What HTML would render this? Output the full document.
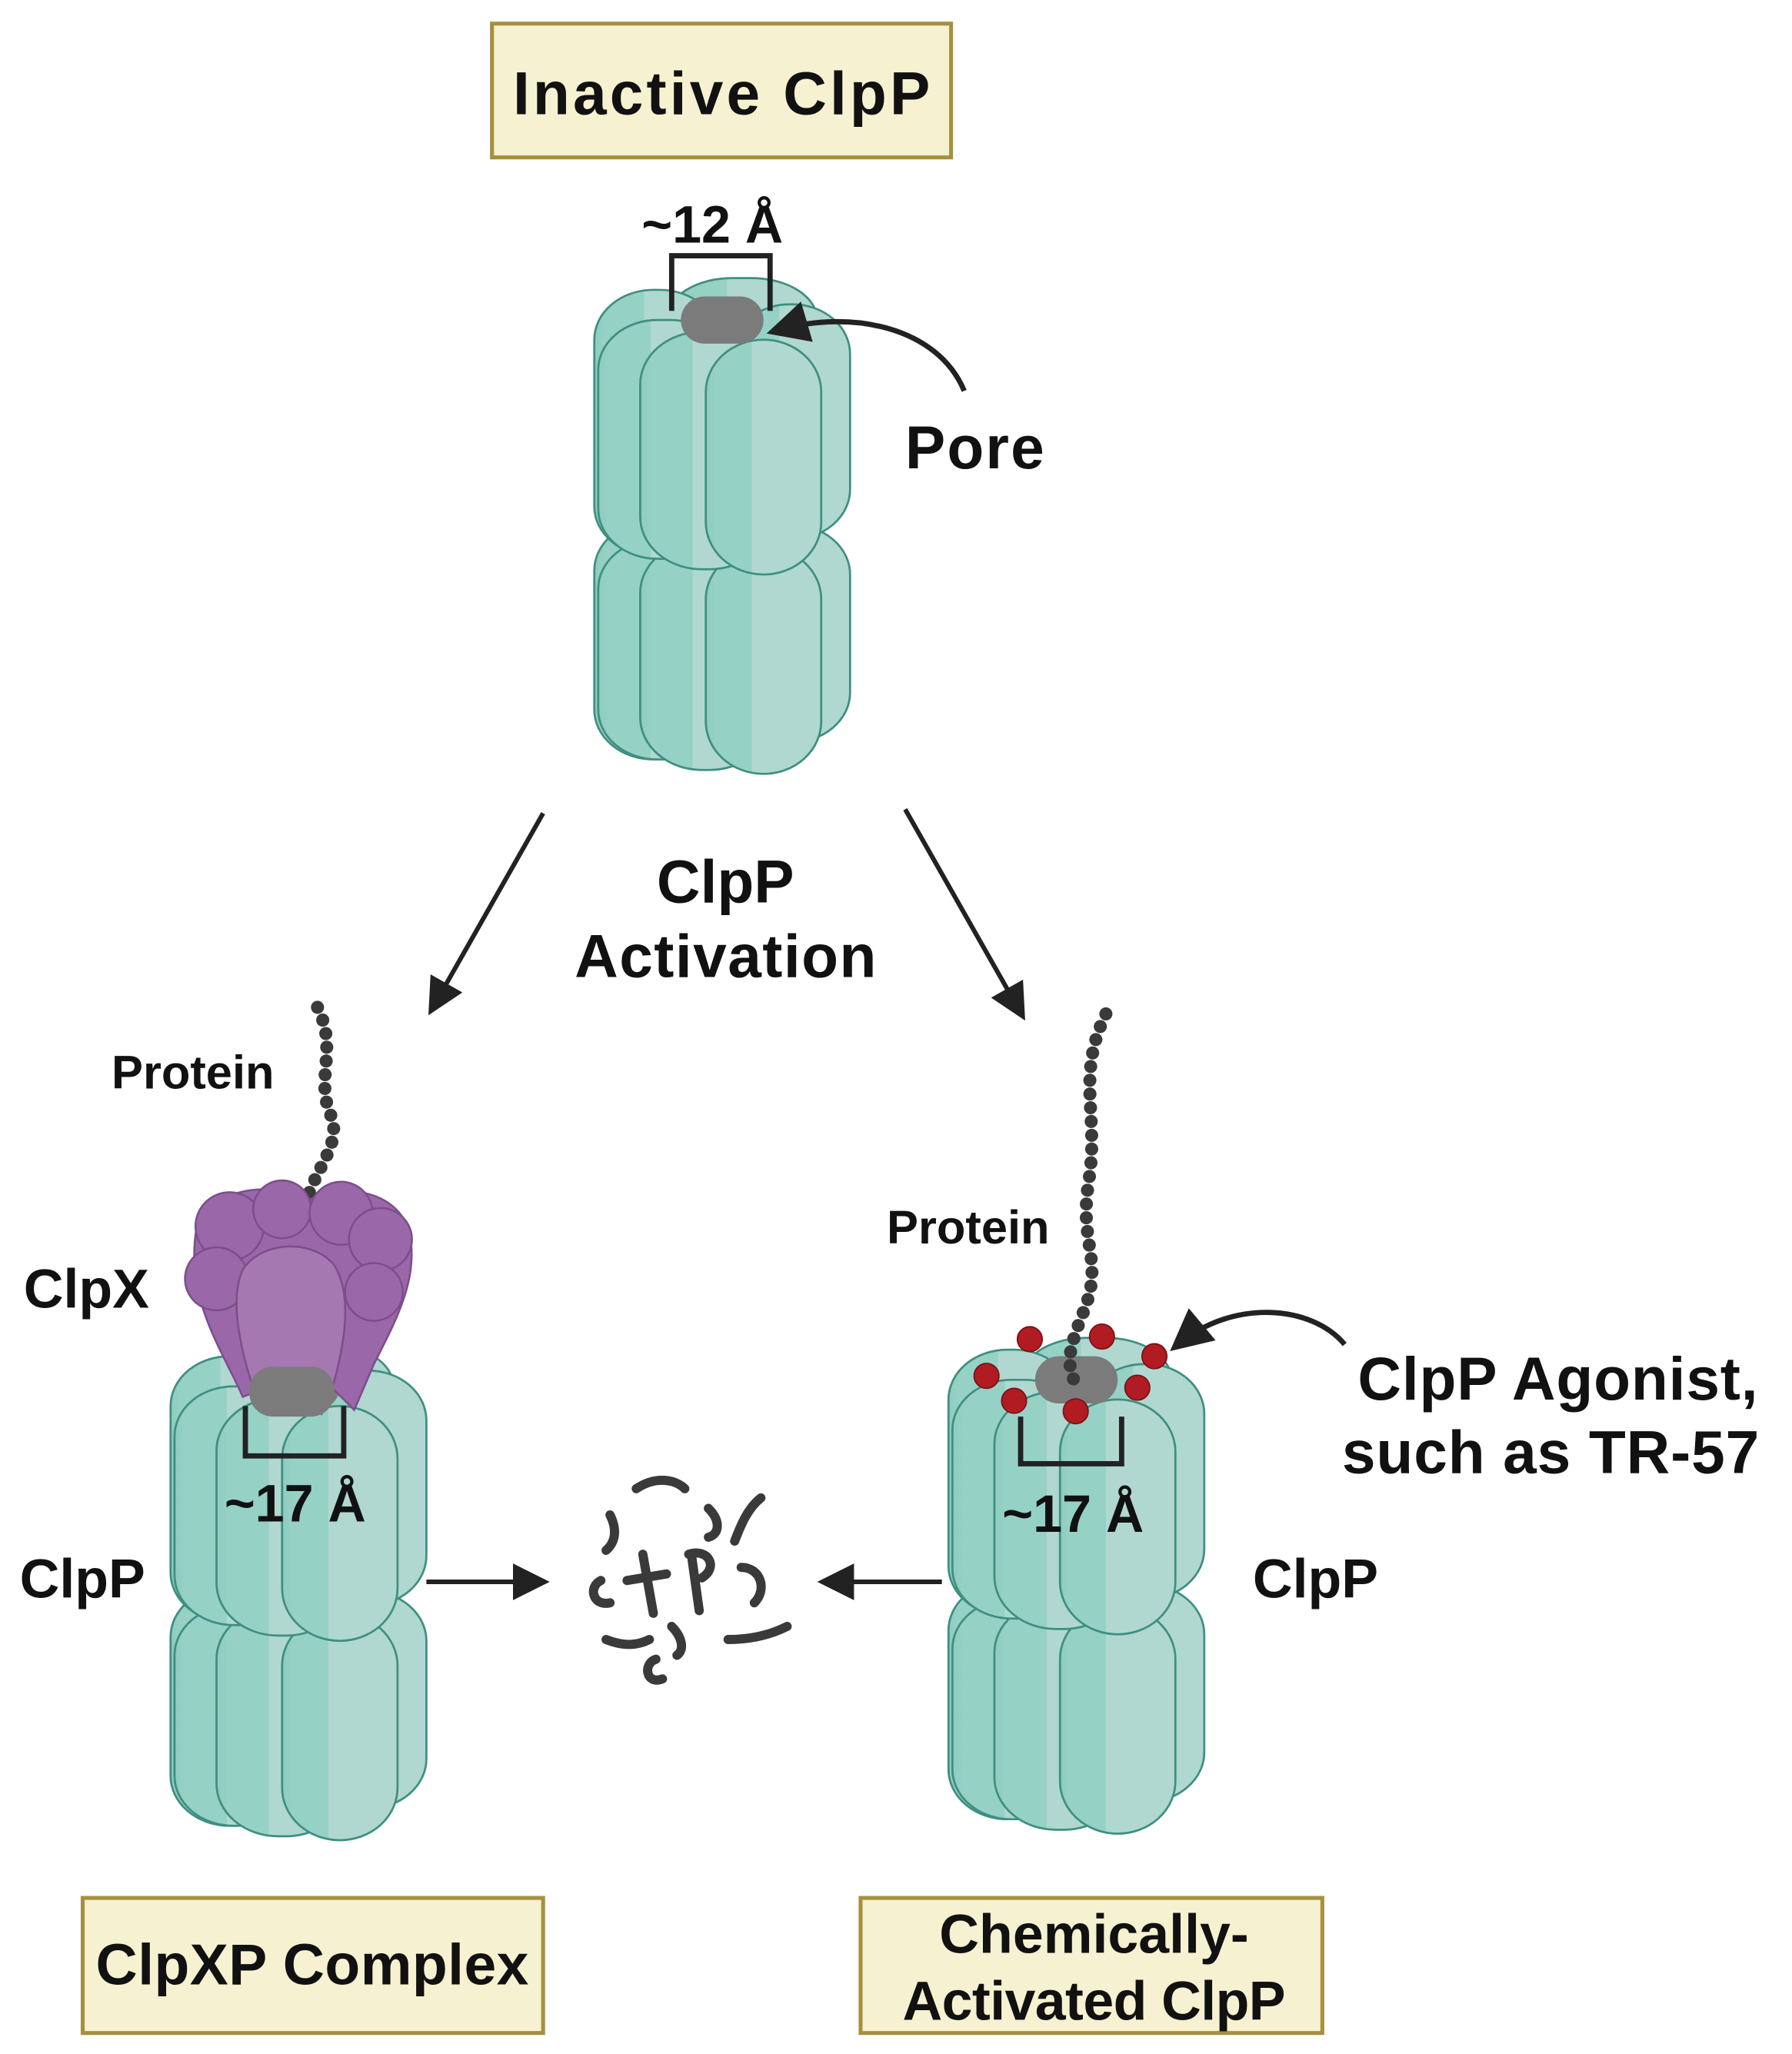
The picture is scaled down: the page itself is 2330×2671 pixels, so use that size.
<!DOCTYPE html>
<html><head><meta charset="utf-8"><style>html,body{margin:0;padding:0;background:#fff}svg{display:block}text{font-family:"Liberation Sans",sans-serif;font-weight:bold;fill:#111}</style></head><body>
<svg width="2330" height="2671" viewBox="0 0 1366 1566" xmlns="http://www.w3.org/2000/svg">
<defs>
<linearGradient id="cg" x1="0" y1="0" x2="1" y2="0">
<stop offset="0" stop-color="#8ecbbf"/><stop offset="0.08" stop-color="#96d1c6"/><stop offset="0.4" stop-color="#96d1c6"/><stop offset="0.4" stop-color="#b0d8d0"/><stop offset="1" stop-color="#b0d8d0"/>
</linearGradient>
<marker id="ah" markerWidth="8" markerHeight="8" refX="6" refY="4" orient="auto" markerUnits="strokeWidth"><path d="M0,0 L8,4 L0,8 Z" fill="#222"/></marker>
<g id="barrel" stroke="#3e8f80" stroke-width="1.6" fill="url(#cg)">
<rect x="0" y="185" width="95" height="182" rx="45" ry="38"/>
<rect x="100" y="188" width="95" height="166" rx="45" ry="38"/>
<rect x="3" y="199" width="100" height="168" rx="45" ry="38"/>
<rect x="35" y="200" width="100" height="175" rx="47" ry="40"/>
<rect x="85" y="205" width="88" height="173" rx="44" ry="40"/>
<rect x="55" y="0" width="115" height="150" rx="50" ry="32"/>
<rect x="0" y="9" width="95" height="203" rx="45" ry="38"/>
<rect x="105" y="20" width="90" height="179" rx="44" ry="38"/>
<rect x="3" y="32" width="100" height="182" rx="45" ry="38"/>
<rect x="35" y="41" width="100" height="181" rx="47" ry="40"/>
<rect x="85" y="47" width="88" height="179" rx="44" ry="40"/>
<rect x="66" y="14" width="63" height="36" rx="18" fill="#7b7b7b" stroke="none"/>
</g>
</defs>

<rect x="375" y="18" width="350" height="102" fill="#f6f1d0" stroke="#a6903f" stroke-width="3"/>
<text x="550" y="87" font-size="46" text-anchor="middle" textLength="318">Inactive ClpP</text>
<use href="#barrel" x="453" y="212"/>
<path d="M512,237 V195 H587 V237" fill="none" stroke="#222" stroke-width="4"/>
<text x="543" y="185" font-size="40" text-anchor="middle">~12 Å</text>
<path d="M735,298 C715,250 650,235 592,252" fill="none" stroke="#222" stroke-width="4" marker-end="url(#ah)"/>
<text x="690" y="357" font-size="46" textLength="106">Pore</text>

<path d="M414,620 L330,768" stroke="#222" stroke-width="3.5" marker-end="url(#ah)"/>
<path d="M690,617 L778,772" stroke="#222" stroke-width="3.5" marker-end="url(#ah)"/>
<text x="553" y="688" font-size="46" text-anchor="middle">ClpP</text>
<text x="553" y="745" font-size="46" text-anchor="middle" textLength="230">Activation</text>

<use href="#barrel" x="130" y="1025"/>
<path d="M242,768 C258,800 240,822 252,850 S226,900 232,942" fill="none" stroke="#3a3a3a" stroke-width="10" stroke-linecap="round" stroke-dasharray="0 10.5"/>
<text x="85" y="830" font-size="36">Protein</text>
<g fill="#9a68a8" stroke="#7c4e8c" stroke-width="1.5">
<path d="M150,935 C165,905 205,900 235,915 C265,900 305,910 312,940 C320,975 300,1010 285,1040 L270,1075 L255,1060 L245,1078 L230,1060 L210,1078 L198,1060 L185,1065 C170,1030 140,990 150,935 Z"/>
<circle cx="175" cy="935" r="26"/><circle cx="215" cy="922" r="22"/><circle cx="260" cy="925" r="24"/><circle cx="290" cy="945" r="24"/>
<circle cx="165" cy="975" r="24"/><circle cx="285" cy="985" r="22"/>
<path d="M185,968 C200,945 240,945 255,965 C270,990 262,1030 250,1070 L238,1060 L225,1078 L212,1062 L198,1072 C182,1030 175,990 185,968 Z" fill="#a578b2"/>
</g>
<rect x="190" y="1042" width="65" height="38" rx="18" fill="#7b7b7b"/>
<path d="M187,1072 V1110 H262 V1072" fill="none" stroke="#222" stroke-width="4"/>
<text x="225" y="1160" font-size="40" text-anchor="middle">~17 Å</text>
<text x="18" y="997" font-size="42">ClpX</text>
<text x="15" y="1218" font-size="42">ClpP</text>
<path d="M325,1206 L412,1206" stroke="#222" stroke-width="3.5" marker-end="url(#ah)"/>
<path d="M718,1206 L630,1206" stroke="#222" stroke-width="3.5" marker-end="url(#ah)"/>

<g fill="none" stroke="#3a3a3a" stroke-width="7" stroke-linecap="round">
<path d="M485,1135 C500,1125 515,1128 522,1135"/>
<path d="M465,1155 C470,1165 470,1175 462,1182"/>
<path d="M540,1150 C550,1160 548,1170 540,1172"/>
<path d="M580,1142 C570,1150 565,1162 560,1175"/>
<path d="M458,1205 C448,1210 452,1225 465,1222"/>
<path d="M490,1185 L498,1230 M478,1205 L508,1200"/>
<path d="M525,1185 C540,1180 548,1195 535,1203 M527,1185 L533,1228"/>
<path d="M565,1195 C580,1195 585,1212 575,1222"/>
<path d="M462,1250 C475,1255 485,1255 495,1250"/>
<path d="M512,1240 C520,1248 522,1258 516,1262"/>
<path d="M500,1265 C490,1268 492,1285 505,1280"/>
<path d="M555,1250 C575,1250 590,1245 600,1240"/>
</g>

<use href="#barrel" x="723" y="1020"/>
<path d="M843,773 C820,820 838,850 830,900 S842,960 826,1000 S816,1040 820,1058" fill="none" stroke="#3a3a3a" stroke-width="10" stroke-linecap="round" stroke-dasharray="0 10.5"/>
<text x="676" y="948" font-size="36">Protein</text>
<g fill="#b01c22" stroke="#7a1015" stroke-width="1">
<circle cx="785" cy="1021" r="9.5"/><circle cx="840" cy="1019" r="9.5"/><circle cx="880" cy="1034" r="9.5"/><circle cx="752" cy="1049" r="9.5"/><circle cx="867" cy="1058" r="9.5"/><circle cx="773" cy="1068" r="9.5"/><circle cx="820" cy="1076" r="9.5"/>
</g>
<path d="M778,1080 V1116 H855 V1080" fill="none" stroke="#222" stroke-width="4"/>
<text x="818" y="1168" font-size="40" text-anchor="middle">~17 Å</text>
<path d="M1025,1025 C1000,995 940,990 898,1025" fill="none" stroke="#222" stroke-width="4" marker-end="url(#ah)"/>
<text x="1035" y="1067" font-size="46" textLength="305">ClpP Agonist,</text>
<text x="1023" y="1123" font-size="46" textLength="318">such as TR-57</text>
<text x="955" y="1218" font-size="42">ClpP</text>

<rect x="63" y="1447" width="351" height="103" fill="#f6f1d0" stroke="#a6903f" stroke-width="3"/>
<text x="238" y="1513" font-size="44" text-anchor="middle" textLength="330">ClpXP Complex</text>
<rect x="656" y="1447" width="352" height="103" fill="#f6f1d0" stroke="#a6903f" stroke-width="3"/>
<text x="834" y="1489" font-size="42" text-anchor="middle" textLength="236">Chemically-</text>
<text x="834" y="1540" font-size="42" text-anchor="middle" textLength="292">Activated ClpP</text>
</svg>
</body></html>
